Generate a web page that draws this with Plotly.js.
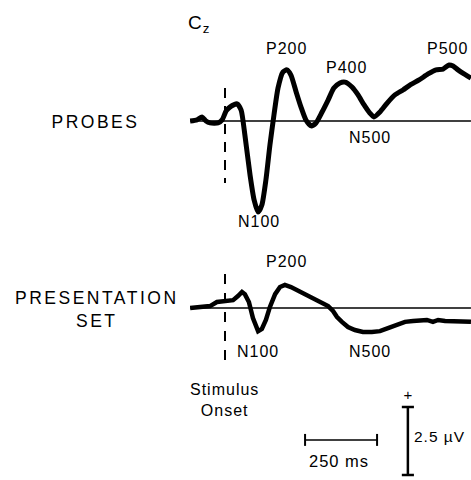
<!DOCTYPE html>
<html>
<head>
<meta charset="utf-8">
<script src="https://cdn.plot.ly/plotly-3.0.1.min.js"></script>
<style>
html,body{margin:0;padding:0;background:#fff;}
.annotation text{letter-spacing:1px;}
.annotation[data-index="0"] text,.annotation[data-index="1"] text{letter-spacing:2.5px;}
</style>
</head>
<body>
<div id="chart" style="width:471px;height:480px;"></div>
<script>
// Time (ms, relative to stimulus onset) and amplitude (µV) of the ERP waveforms at Cz
const probesMs = [-121,-97,-80,-66,-52,-24,-10,4,17,42,56,69,87,101,115,128,142,156,170,184,201,215,229,247,264,281,299,316,337,358,378,399,417,441,462,483,503,517,538,563,590,618,642,674,705,733,757,778,792,809,830,854];
const probesUv = [0,0.04,0.15,0,-0.07,-0.07,0.04,0.37,0.51,0.63,0.40,-0.51,-1.99,-2.90,-3.35,-3.09,-2.17,-0.88,0.22,1.21,1.80,1.88,1.69,1.07,0.51,0.04,-0.18,-0.07,0.33,0.77,1.21,1.40,1.43,1.25,0.96,0.59,0.29,0.15,0.33,0.66,0.96,1.14,1.32,1.51,1.73,1.88,1.91,2.06,2.02,1.88,1.73,1.58];

const presMs = [-121,-87,-52,-28,0,28,45,59,69,83,97,115,128,142,156,174,191,208,229,250,278,306,333,358,375,389,406,427,451,479,510,538,566,594,625,653,677,701,722,740,764,788,816,854];
const presUv = [0,0.04,0.07,0.22,0.26,0.29,0.44,0.59,0.51,0.22,-0.37,-0.85,-0.77,-0.44,0.04,0.51,0.77,0.85,0.77,0.66,0.51,0.37,0.22,0.07,-0.11,-0.33,-0.51,-0.70,-0.81,-0.88,-0.88,-0.85,-0.74,-0.63,-0.51,-0.48,-0.44,-0.44,-0.51,-0.44,-0.48,-0.48,-0.51,-0.51];

// Scale bars
const timeScaleMs = 250;
const ampScaleUv = 2.5;

// Labels
const rowLabels = ["PROBES", "PRESENTATION<br>SET"];
const electrode = "C<sub>z</sub>";
const probePeaks = ["P200", "P400", "P500", "N500", "N100"];
const presPeaks = ["P200", "N100", "N500"];
const onsetLabel = "Stimulus<br>Onset";
const timeScaleLabel = timeScaleMs + " ms";
const ampScaleLabel = ampScaleUv + " µV";

const W = 471, H = 480;
const fontFam = "Liberation Sans, Arial, Helvetica, sans-serif";
const px = (x) => x / W;
const py = (y) => 1 - y / H;

const traces = [
  {x: probesMs, y: probesUv, type: 'scatter', mode: 'lines', yaxis: 'y',
   line: {color: '#000', width: 5, shape: 'spline', smoothing: 0.6}, hoverinfo: 'skip'},
  {x: presMs, y: presUv, type: 'scatter', mode: 'lines', yaxis: 'y2',
   line: {color: '#000', width: 4.5, shape: 'linear'}, hoverinfo: 'skip'}
];

const tBarStart = 278, tBarY = -4.85;
const vBarX = 635, vBarY0 = -6.14;

const shapes = [
  // baselines
  {type: 'line', xref: 'x', yref: 'y', x0: probesMs[0], x1: probesMs[probesMs.length-1], y0: 0, y1: 0, line: {color: '#000', width: 1.5}},
  {type: 'line', xref: 'x', yref: 'y2', x0: presMs[0], x1: presMs[presMs.length-1], y0: 0, y1: 0, line: {color: '#000', width: 1.5}},
  // stimulus onset dashed lines
  {type: 'line', xref: 'x', yref: 'y', x0: 0, x1: 0, y0: 1.21, y1: -2.28, line: {color: '#000', width: 2, dash: '10px,8px'}},
  {type: 'line', xref: 'x', yref: 'y2', x0: 0, x1: 0, y0: 1.25, y1: -2.17, line: {color: '#000', width: 2, dash: '10px,9px'}},
  // time scale bar
  {type: 'line', xref: 'x', yref: 'y2', x0: tBarStart, x1: tBarStart + timeScaleMs, y0: tBarY, y1: tBarY, line: {color: '#000', width: 1.5}},
  {type: 'line', xref: 'x', yref: 'y2', x0: tBarStart, x1: tBarStart, y0: tBarY - 0.22, y1: tBarY + 0.22, line: {color: '#000', width: 2}},
  {type: 'line', xref: 'x', yref: 'y2', x0: tBarStart + timeScaleMs, x1: tBarStart + timeScaleMs, y0: tBarY - 0.22, y1: tBarY + 0.22, line: {color: '#000', width: 2}},
  // amplitude scale bar
  {type: 'line', xref: 'x', yref: 'y2', x0: vBarX, x1: vBarX, y0: vBarY0, y1: vBarY0 + ampScaleUv, line: {color: '#000', width: 2.5}},
  {type: 'line', xref: 'x', yref: 'y2', x0: vBarX - 21, x1: vBarX + 21, y0: vBarY0, y1: vBarY0, line: {color: '#000', width: 2.5}},
  {type: 'line', xref: 'x', yref: 'y2', x0: vBarX - 21, x1: vBarX + 21, y0: vBarY0 + ampScaleUv, y1: vBarY0 + ampScaleUv, line: {color: '#000', width: 2.5}}
];

function ann(text, x, y, size, extra) {
  return Object.assign({text: text, xref: 'paper', yref: 'paper', x: px(x), y: py(y),
    xanchor: 'center', yanchor: 'middle', showarrow: false,
    font: {family: fontFam, size: size, color: '#000'}}, extra || {});
}

const annotations = [
  ann(rowLabels[0], 95, 122, 17.5),
  ann(rowLabels[1], 97, 309, 17.5),
  ann(electrode, 199, 24, 19),
  ann(probePeaks[0], 286, 49, 16),
  ann(probePeaks[1], 346, 67, 16),
  ann(probePeaks[2], 447, 49, 16),
  ann(probePeaks[3], 370, 137, 16),
  ann(probePeaks[4], 259, 221, 16),
  ann(presPeaks[0], 286, 261, 16),
  ann(presPeaks[1], 258, 351, 16),
  ann(presPeaks[2], 370, 351, 16),
  ann(onsetLabel, 224, 400, 16),
  ann(timeScaleLabel, 339, 461, 16.5),
  ann(ampScaleLabel, 415, 436, 15.5, {xanchor: 'left'}),
  ann("+", 408, 394, 15)
];

const layout = {
  width: W, height: H,
  margin: {l: 0, r: 0, t: 0, b: 0, pad: 0},
  paper_bgcolor: '#fff', plot_bgcolor: '#fff',
  showlegend: false,
  xaxis: {range: [-781.25, 854.17], visible: false, fixedrange: true},
  yaxis: {range: [-13.199, 4.449], visible: false, fixedrange: true},
  yaxis2: {range: [-6.324, 11.324], visible: false, fixedrange: true, overlaying: 'y'},
  shapes: shapes,
  annotations: annotations,
  font: {family: fontFam, color: '#000'}
};

Plotly.newPlot('chart', traces, layout, {staticPlot: true, displayModeBar: false});
</script>
</body>
</html>
